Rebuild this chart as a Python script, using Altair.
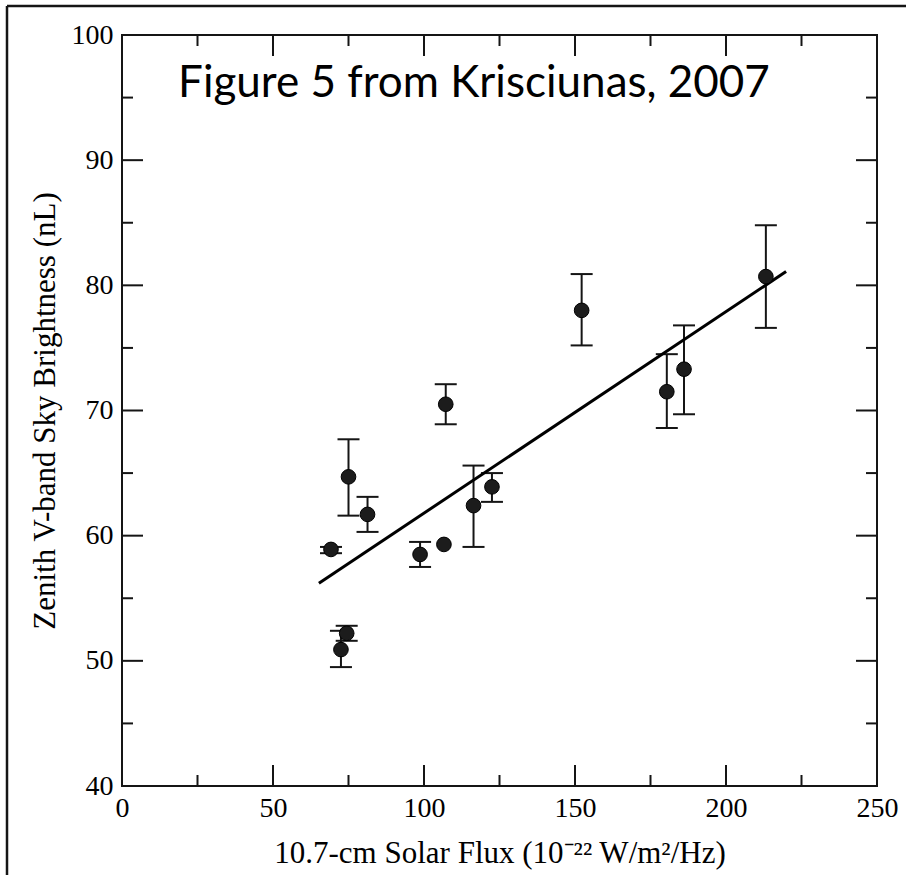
import altair as alt
import pandas as pd

# ---- data ----
flux = [69.2, 72.5, 74.4, 75.0, 81.3, 98.7, 106.6, 107.2, 116.4, 122.5, 152.2, 180.4, 186.1, 213.2]
bright = [58.9, 50.9, 52.2, 64.7, 61.7, 58.5, 59.3, 70.5, 62.4, 63.9, 78.0, 71.5, 73.3, 80.7]
err_lo = [58.6, 49.5, 51.6, 61.6, 60.3, 57.5, None, 68.9, 59.1, 62.7, 75.2, 68.6, 69.7, 76.6]
err_hi = [59.1, 52.4, 52.8, 67.7, 63.1, 59.5, None, 72.1, 65.6, 65.0, 80.9, 74.5, 76.8, 84.8]

fit_x = [65.2, 219.9]
fit_y = [56.2, 81.1]

x_major = [0, 50, 100, 150, 200, 250]
x_minor = [25, 75, 125, 175, 225]
y_major = [40, 50, 60, 70, 80, 90, 100]
y_minor = [45, 55, 65, 75, 85, 95]

title_text = "Figure 5 from Krisciunas, 2007"
x_title = "10.7-cm Solar Flux (10\u207b\u00b2\u00b2 W/m\u00b2/Hz)"
y_title = "Zenith V-band Sky Brightness (nL)"

W, H = 755, 751
MAJ, MIN = 21, 11
INK = "#151515"
SERIF = "Liberation Serif"

pts = pd.DataFrame({"flux": flux, "bright": bright, "lo": err_lo, "hi": err_hi})
fit = pd.DataFrame({"flux": fit_x, "bright": fit_y})

xs = alt.Scale(domain=[0, 250], nice=False, zero=False)
ys = alt.Scale(domain=[40, 100], nice=False, zero=False)

x_axis = alt.Axis(values=x_major, ticks=False, domain=False, grid=False, format="d",
                  labelFont=SERIF, labelFontSize=28, labelColor="black", labelPadding=8,
                  labelFlush=False, labelOverlap=False,
                  title=x_title, titleFont=SERIF, titleFontSize=31, titleFontWeight="normal",
                  titleColor="black", titlePadding=16)
y_axis = alt.Axis(values=y_major, ticks=False, domain=False, grid=False, format="d",
                  labelFont=SERIF, labelFontSize=28, labelColor="black", labelPadding=9,
                  labelFlush=False, labelOverlap=False,
                  title=y_title, titleFont=SERIF, titleFontSize=31, titleFontWeight="normal",
                  titleColor="black", titlePadding=10)


def X(field):
    return alt.X(field, type="quantitative", scale=xs, axis=x_axis)


def Y(field):
    return alt.Y(field, type="quantitative", scale=ys, axis=y_axis)


base = alt.Chart(pts)

points = base.mark_point(filled=True, size=215, shape="circle", fill="#1c1c1c",
                         stroke="black", strokeWidth=1, opacity=1).encode(
    x=X("flux"), y=Y("bright"))

eb = base.transform_filter("isValid(datum.lo)")
err_rule = eb.mark_rule(color=INK, strokeWidth=2).encode(
    x=X("flux"), y=Y("lo"), y2="hi:Q")
cap_lo = eb.mark_tick(orient="horizontal", size=22, thickness=2, color=INK, opacity=1).encode(
    x=X("flux"), y=Y("lo"))
cap_hi = eb.mark_tick(orient="horizontal", size=22, thickness=2, color=INK, opacity=1).encode(
    x=X("flux"), y=Y("hi"))

line = alt.Chart(fit).mark_line(color="black", strokeWidth=3).encode(
    x=X("flux"), y=Y("bright"))


def yticks(vals, length):
    d = pd.DataFrame({"v": vals})
    left = alt.Chart(d).mark_rule(color=INK, strokeWidth=2).encode(
        y=Y("v"), x=alt.value(0), x2=alt.value(length))
    right = alt.Chart(d).mark_rule(color=INK, strokeWidth=2).encode(
        y=Y("v"), x=alt.value(W - length), x2=alt.value(W))
    return [left, right]


def xticks(vals, length):
    d = pd.DataFrame({"v": vals})
    bottom = alt.Chart(d).mark_rule(color=INK, strokeWidth=2).encode(
        x=X("v"), y=alt.value(H - length), y2=alt.value(H))
    top = alt.Chart(d).mark_rule(color=INK, strokeWidth=2).encode(
        x=X("v"), y=alt.value(0), y2=alt.value(length))
    return [bottom, top]


tick_layers = yticks(y_major, MAJ) + yticks(y_minor, MIN) + xticks(x_major, MAJ) + xticks(x_minor, MIN)

title = alt.Chart(pd.DataFrame({"t": [title_text]})).mark_text(
    font="Lato", fontSize=44, color="black", align="center", baseline="alphabetic"
).encode(text="t:N", x=alt.value(352), y=alt.value(62))

frame_d = pd.DataFrame({"k": [0]})
frame_top = alt.Chart(frame_d).mark_rule(color=INK, strokeWidth=2.5).encode(
    x=alt.value(-115), x2=alt.value(800), y=alt.value(-29))
frame_left = alt.Chart(frame_d).mark_rule(color=INK, strokeWidth=2.5).encode(
    x=alt.value(-115), y=alt.value(-29), y2=alt.value(850))

chart = alt.layer(
    *tick_layers, err_rule, cap_lo, cap_hi, line, points, title, frame_top, frame_left
).properties(
    width=W, height=H,
    autosize=alt.AutoSizeParams(type="none"),
    padding={"left": 122, "top": 35, "right": 29, "bottom": 89},
    background="white",
).configure_view(stroke=INK, strokeWidth=2)

chart.save("out.html", embed_options={"renderer": "svg", "actions": False})
